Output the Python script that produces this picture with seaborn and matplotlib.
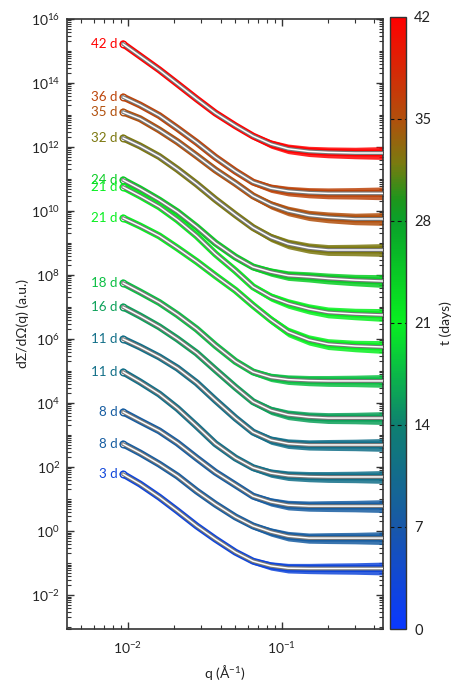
import numpy as np
import pandas as pd
import matplotlib
matplotlib.use("Agg")
import matplotlib.pyplot as plt
import seaborn as sns
from matplotlib.colors import LinearSegmentedColormap, Normalize
from matplotlib.cm import ScalarMappable
from matplotlib.ticker import LogLocator, NullFormatter, LogFormatterSciNotation

# ---------------- data ----------------
q = [0.0093, 0.012, 0.016, 0.021, 0.028, 0.037, 0.05, 0.065, 0.085, 0.11, 0.15, 0.2, 0.3, 0.45]

days = [42, 36, 35, 32, 24, 21, 21, 18, 16, 11, 11, 8, 8, 3]
labels = ["42 d", "36 d", "35 d", "32 d", "24 d", "21 d", "21 d",
          "18 d", "16 d", "11 d", "11 d", "8 d", "8 d", "3 d"]

# log10 of dSigma/dOmega (a.u.) at each q
logI_42d = [15.22, 14.84, 14.41, 13.97, 13.50, 13.06, 12.66, 12.34, 12.09, 11.94, 11.86, 11.83, 11.81, 11.81]
logI_36d = [13.56, 13.31, 12.98, 12.58, 12.14, 11.68, 11.24, 10.90, 10.71, 10.62, 10.57, 10.55, 10.55, 10.55]
logI_35d = [13.09, 12.88, 12.53, 12.16, 11.72, 11.28, 10.86, 10.47, 10.19, 10.00, 9.86, 9.80, 9.75, 9.75]
logI_32d = [12.28, 12.03, 11.70, 11.30, 10.84, 10.36, 9.88, 9.48, 9.17, 8.97, 8.84, 8.78, 8.78, 8.78]
logI_24d = [10.97, 10.69, 10.34, 9.97, 9.50, 9.00, 8.56, 8.25, 8.09, 7.98, 7.94, 7.89, 7.84, 7.81]
logI_21d_a = [10.75, 10.47, 10.13, 9.72, 9.22, 8.66, 8.13, 7.63, 7.31, 7.11, 6.94, 6.83, 6.78, 6.75]
logI_21d_b = [9.78, 9.53, 9.22, 8.84, 8.42, 7.98, 7.52, 7.05, 6.60, 6.22, 5.97, 5.84, 5.78, 5.75]
logI_18d = [7.75, 7.47, 7.14, 6.76, 6.31, 5.80, 5.30, 4.97, 4.80, 4.73, 4.70, 4.69, 4.69, 4.69]
logI_16d = [7.00, 6.72, 6.38, 6.00, 5.56, 5.04, 4.49, 4.04, 3.77, 3.63, 3.56, 3.53, 3.53, 3.53]
logI_11d_a = [6.00, 5.75, 5.44, 5.09, 4.63, 4.09, 3.53, 3.09, 2.84, 2.73, 2.69, 2.69, 2.69, 2.69]
logI_11d_b = [4.97, 4.66, 4.28, 3.83, 3.28, 2.73, 2.28, 1.98, 1.81, 1.73, 1.70, 1.69, 1.69, 1.69]
logI_8d_a = [3.72, 3.44, 3.13, 2.75, 2.28, 1.84, 1.44, 1.09, 0.91, 0.81, 0.78, 0.78, 0.78, 0.78]
logI_8d_b = [2.72, 2.44, 2.09, 1.72, 1.25, 0.84, 0.44, 0.16, -0.03, -0.16, -0.22, -0.22, -0.22, -0.22]
logI_3d = [1.78, 1.47, 1.06, 0.63, 0.16, -0.25, -0.66, -0.94, -1.09, -1.16, -1.17, -1.17, -1.17, -1.17]

# half-width (decades) of the scatter of the measured points around the fit
spread = [0.03, 0.03, 0.03, 0.03, 0.04, 0.05, 0.07, 0.10, 0.13, 0.15, 0.16, 0.17, 0.18, 0.20]

curves = [logI_42d, logI_36d, logI_35d, logI_32d, logI_24d, logI_21d_a, logI_21d_b,
          logI_18d, logI_16d, logI_11d_a, logI_11d_b, logI_8d_a, logI_8d_b, logI_3d]

cbar_ticks = [0, 7, 14, 21, 28, 35, 42]

# ---------------- style ----------------
sns.set_style("white")
plt.rcParams["font.family"] = ["Lato", "DejaVu Sans"]
plt.rcParams["mathtext.fontset"] = "custom"
plt.rcParams["mathtext.rm"] = "Lato"
plt.rcParams["mathtext.it"] = "Lato:italic"
plt.rcParams["mathtext.bf"] = "Lato:bold"

nodes = [0, 7, 14, 21, 28, 29.5, 32, 35, 42]
node_cols = ["#0a38ff", "#1858a8", "#0e8070", "#08f020", "#0aa02a",
             "#1d961c", "#7a7a10", "#b0500c", "#ff0000"]
cmap = LinearSegmentedColormap.from_list(
    "tdays", list(zip([n / 42 for n in nodes], node_cols)))
norm = Normalize(0, 42)

fig = plt.figure(figsize=(4.55, 6.84), dpi=100)
ax = fig.add_axes([0.147, 0.0804, 0.695, 0.892])
ax.set_xscale("log")
ax.set_yscale("log")

qa = np.array(q)
sp = np.array(spread)
for d, lab, logI in zip(days, labels, curves):
    col = cmap(norm(d))
    li = np.array(logI)
    df = pd.DataFrame({"q": qa, "I": 10 ** li})
    # measured data: scattered band around the fit
    ax.fill_between(qa, 10 ** (li - sp), 10 ** (li + sp), color=col,
                    alpha=0.85, lw=0, zorder=2)
    sns.lineplot(data=df, x="q", y="I", ax=ax, color=col, lw=5.0,
                 sort=False, estimator=None, zorder=2.5, legend=False)
    sns.scatterplot(data=df.iloc[:1], x="q", y="I", ax=ax, marker="o", s=22,
                    facecolor="white", edgecolor=col, linewidth=1.0,
                    zorder=3, legend=False)
    # fit: grey line with white core
    sns.lineplot(data=df, x="q", y="I", ax=ax, color="#777777", lw=2.8,
                 sort=False, estimator=None, zorder=4, legend=False)
    sns.lineplot(data=df, x="q", y="I", ax=ax, color="white", lw=1.1,
                 sort=False, estimator=None, zorder=5, legend=False)
    ax.text(0.0086, 10 ** li[0], lab, color=col, ha="right", va="center",
            fontsize=9.6, zorder=6)

ax.set_xlim(0.00402, 0.455)
ax.set_ylim(10 ** -3.06, 1e16)

ax.yaxis.set_major_locator(LogLocator(base=100, numticks=20))
ax.yaxis.set_major_formatter(LogFormatterSciNotation(base=10))
ax.yaxis.set_minor_locator(LogLocator(base=10, subs=np.arange(1, 10), numticks=100))
ax.yaxis.set_minor_formatter(NullFormatter())
ax.xaxis.set_major_locator(LogLocator(base=10, numticks=10))
ax.xaxis.set_minor_locator(LogLocator(base=10, subs=np.arange(2, 10), numticks=100))
ax.xaxis.set_minor_formatter(NullFormatter())

ax.tick_params(which="both", direction="in", top=True, right=True,
               bottom=True, left=True, color="#333333", labelsize=10,
               labelcolor="#222222")
ax.tick_params(axis="x", which="major", pad=8)
ax.tick_params(axis="y", which="major", pad=5)
ax.tick_params(which="major", length=5, width=1.0)
ax.tick_params(which="minor", length=2.8, width=0.8)
for s in ax.spines.values():
    s.set_color("#333333")
    s.set_linewidth(1.2)

ax.set_xlabel("q (Å$^{-1}$)", fontsize=10, color="#222222", labelpad=5)
ax.set_ylabel("dΣ/dΩ(q) (a.u.)", fontsize=10, color="#222222", labelpad=1)

# colour bar
cax = fig.add_axes([0.857, 0.0804, 0.035, 0.895])
sm = ScalarMappable(norm=norm, cmap=cmap)
cb = fig.colorbar(sm, cax=cax, ticks=cbar_ticks)
cb.ax.tick_params(length=0, labelsize=10.5, pad=6, labelcolor="#222222")
cb.outline.set_edgecolor("#333333")
cb.outline.set_linewidth(1.0)
for t in cbar_ticks[1:-1]:
    cb.ax.axhline(t, color="#111111", lw=0.8, ls=(0, (3.5, 3)))
cb.set_label("t (days)", fontsize=10, color="#222222", labelpad=6)

fig.savefig("out.png", dpi=100)
